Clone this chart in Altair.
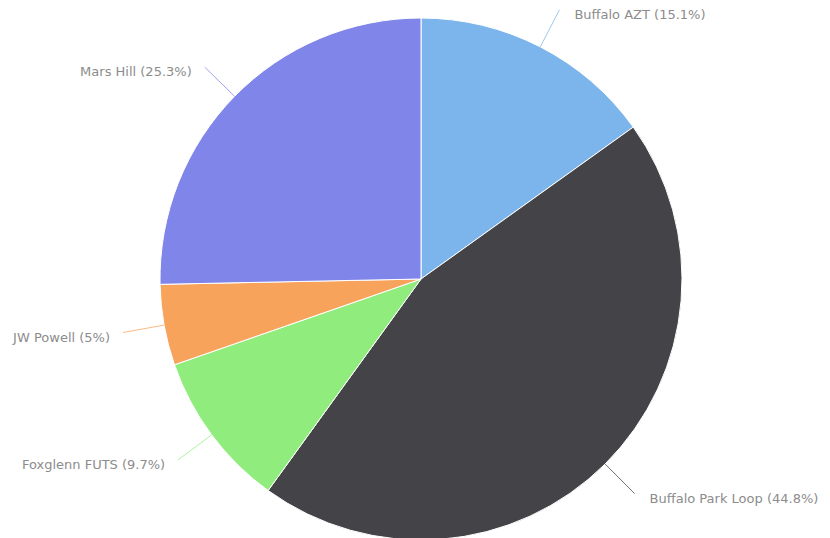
import altair as alt
import pandas as pd

trails = ["Buffalo AZT", "Buffalo Park Loop", "Foxglenn FUTS", "JW Powell", "Mars Hill"]
shares = [15.1, 44.8, 9.7, 5.0, 25.3]
share_labels = ["15.1%", "44.8%", "9.7%", "5%", "25.3%"]
colors = ["#7cb5ec", "#434348", "#90ed7d", "#f7a35c", "#8085e9"]

df = pd.DataFrame({"trail": trails, "share": shares, "plabel": share_labels, "order": list(range(len(trails)))})

R = 261
W, H = 802, 542  # pie centre sits at the middle of the plot area
xs = alt.Scale(domain=[-W / 2 / R, W / 2 / R], range=[0, W], nice=False, zero=False)
ys = alt.Scale(domain=[-H / 2 / R, H / 2 / R], range=[H, 0], nice=False, zero=False)
cscale = alt.Scale(domain=trails, range=colors)

base = alt.Chart(df)

pie = base.mark_arc(stroke="white", strokeWidth=1, radius=R).encode(
    theta=alt.Theta("share:Q", stack=True),
    order=alt.Order("order:Q"),
    color=alt.Color("trail:N", scale=cscale, legend=None),
)

geo = base.transform_joinaggregate(
    total="sum(share)"
).transform_window(
    cum="sum(share)", sort=[alt.SortField("order")], frame=[None, 0]
).transform_calculate(
    mid="(datum.cum - datum.share/2) / datum.total * 2 * PI",
    x0="sin(datum.mid)",
    y0="cos(datum.mid)",
    x1="1.16 * sin(datum.mid)",
    y1="1.16 * cos(datum.mid)",
    right="sin(datum.mid) >= 0 ? 1 : 0",
    label="datum.trail + ' (' + datum.plabel + ')'",
)

connectors = geo.mark_rule(strokeWidth=1, opacity=0.75).encode(
    x=alt.X("x0:Q", scale=xs, axis=None),
    y=alt.Y("y0:Q", scale=ys, axis=None),
    x2="x1:Q",
    y2="y1:Q",
    color=alt.Color("trail:N", scale=cscale, legend=None),
)

label_style = dict(fontSize=13, font="DejaVu Sans", color="#8c8c8c", baseline="middle", dy=5)
labels_r = geo.transform_filter("datum.right == 1").mark_text(align="left", dx=15, **label_style).encode(
    x=alt.X("x1:Q", scale=xs, axis=None),
    y=alt.Y("y1:Q", scale=ys, axis=None),
    text="label:N",
)
labels_l = geo.transform_filter("datum.right == 0").mark_text(align="right", dx=-13, **label_style).encode(
    x=alt.X("x1:Q", scale=xs, axis=None),
    y=alt.Y("y1:Q", scale=ys, axis=None),
    text="label:N",
)

chart = alt.layer(pie, connectors, labels_r, labels_l).properties(
    width=W, height=H,
    padding={"left": 12, "top": 0, "right": 0, "bottom": 0},
    autosize=alt.AutoSizeParams(type="none"),
).configure_view(stroke=None)

chart.save("out.html", embed_options={"renderer": "svg", "actions": False})
